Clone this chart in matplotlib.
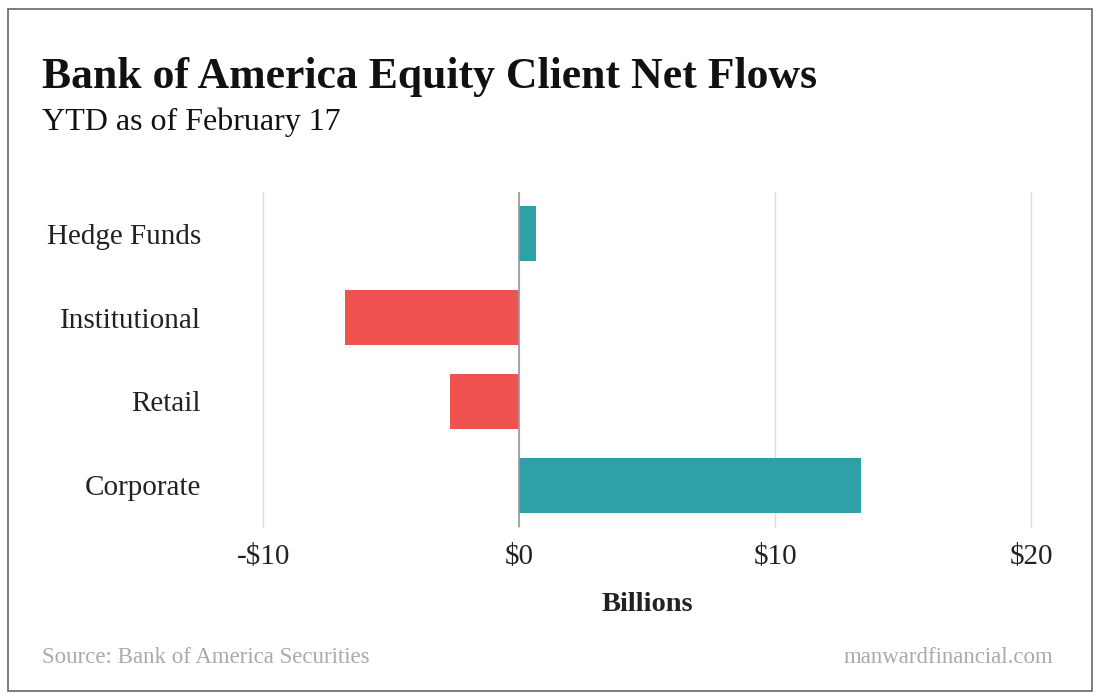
import matplotlib.pyplot as plt
from matplotlib.patches import Rectangle

categories = ["Hedge Funds", "Institutional", "Retail", "Corporate"]
flows = [0.65, -6.8, -2.7, 13.35]
tick_vals = [-10, 0, 10, 20]
tick_labels = ["-$10", "$0", "$10", "$20"]

teal = "#2ea0a8"
red = "#f0524f"
serif = ["Liberation Serif", "DejaVu Serif"]
plt.rcParams['font.family'] = serif

fig = plt.figure(figsize=(11, 7), dpi=100)
ax = fig.add_axes([0.2395, 0.247, 0.698, 0.479])

colors = [teal if v >= 0 else red for v in flows]
ax.barh(range(len(categories)), flows, height=0.66, color=colors, zorder=3)

ax.set_xlim(-10, 20)
ax.set_ylim(3.5, -0.5)
ax.set_xticks(tick_vals)
ax.set_xticklabels(tick_labels, fontsize=21, color="#222222")
ax.set_yticks(range(len(categories)))
ax.set_yticklabels(categories, fontsize=21, color="#222222")
ax.tick_params(axis="both", length=0)
ax.tick_params(axis="x", pad=12)
ax.tick_params(axis="y", pad=45)
ax.grid(axis="x", color="#dddddd", linewidth=1, zorder=0)
for line in ax.get_xgridlines():
    line.set_clip_on(False)
ax.axvline(0, color="#999999", linewidth=1.2, zorder=4)
for s in ax.spines.values():
    s.set_visible(False)

ax.set_xlabel("Billions", fontsize=20.5, fontweight="bold", color="#222222", labelpad=16)

fig.text(0.038, 0.874, "Bank of America Equity Client Net Flows", fontsize=31.5,
         fontweight="bold", color="#111111", va="baseline")
fig.text(0.038, 0.814, "YTD as of February 17", fontsize=23, color="#111111", va="baseline")
fig.text(0.038, 0.053, "Source: Bank of America Securities", fontsize=16.5,
         color="#aaaaaa", va="baseline")
fig.text(0.958, 0.053, "manwardfinancial.com", fontsize=16.5, color="#aaaaaa",
         va="baseline", ha="right")

fig.patches.append(Rectangle((0.0075, 0.013), 0.985, 0.974, transform=fig.transFigure,
                             fill=False, edgecolor="#666666", linewidth=1.2))

fig.savefig("out.png", dpi=100)
